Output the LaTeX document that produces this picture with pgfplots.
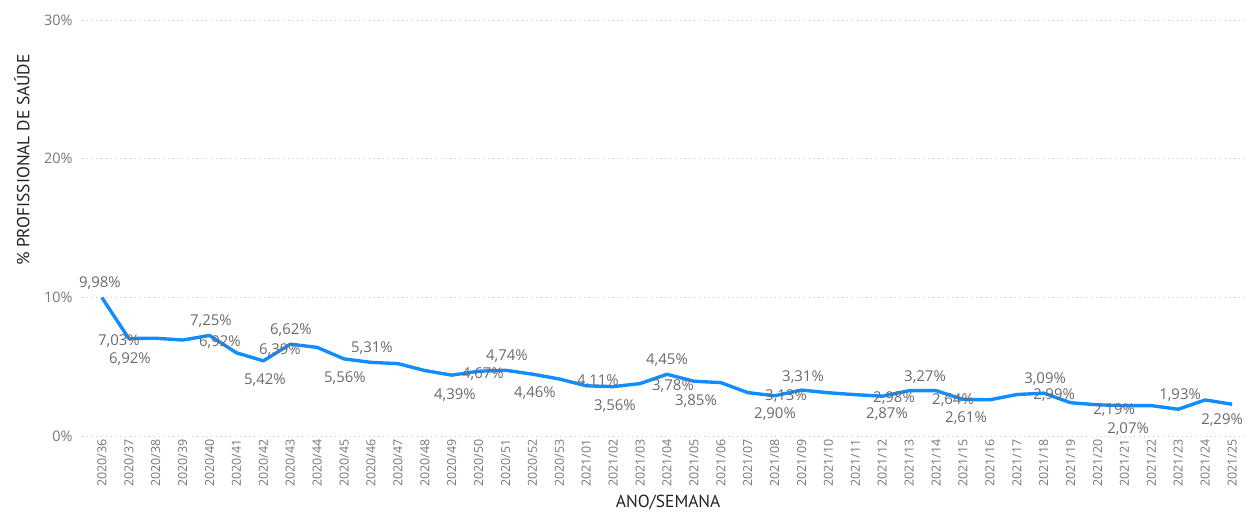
\documentclass[border=0pt]{standalone}
\usepackage{pgfplots}
\pgfplotsset{compat=1.18}
\usepackage{fontspec}
\setmainfont{Open Sans}
\newfontfamily\titlefont{PT Sans}
\definecolor{pbblue}{HTML}{118DFF}
\definecolor{lblgrey}{HTML}{6B6A68}
\definecolor{tickgrey}{HTML}{77767A}
\definecolor{titlegrey}{HTML}{252423}
\definecolor{gridgrey}{HTML}{C8C8C8}
% label placed at reference pixel position (px,py)
\newcommand{\lbl}[3]{\node[font=\fontsize{15}{17}\selectfont,text=lblgrey,inner sep=0pt] at (axis cs:{(#1-102)/26.905},{(436-#2)/13.867}) {#3};}
\begin{document}
\begin{tikzpicture}
\begin{axis}[
  at={(82bp,76bp)}, anchor=south west,
  scale only axis, width=1163bp, height=416bp,
  xmin=-0.74, xmax=42.48, ymin=0, ymax=30,
  axis line style={draw=none}, tick style={draw=none},
  ytick={0,10,20,30}, yticklabels={0\%,10\%,20\%,30\%},
  yticklabel style={font=\fontsize{14.5}{16}\selectfont,text=tickgrey,xshift=-6bp},
  ymajorgrids, grid style={gridgrey, line width=0.8pt, dash pattern=on 0.8pt off 4pt},
  xtick={0,...,42},
  xticklabels={2020/36,2020/37,2020/38,2020/39,2020/40,2020/41,2020/42,2020/43,2020/44,2020/45,2020/46,2020/47,2020/48,2020/49,2020/50,2020/51,2020/52,2020/53,2021/01,2021/02,2021/03,2021/04,2021/05,2021/06,2021/07,2021/08,2021/09,2021/10,2021/11,2021/12,2021/13,2021/14,2021/15,2021/16,2021/17,2021/18,2021/19,2021/20,2021/21,2021/22,2021/23,2021/24,2021/25},
  xticklabel style={font=\fontsize{12.5}{14}\selectfont,text=tickgrey,rotate=90,anchor=east,yshift=0bp},
  xlabel={ANO/SEMANA},
  xlabel style={font=\titlefont\fontsize{17.5}{19}\selectfont,text=titlegrey,inner sep=0pt,at={(axis description cs:0.504,-0.161)},anchor=center},
  ylabel={\% PROFISSIONAL DE SAÚDE},
  ylabel style={font=\titlefont\fontsize{17.5}{19}\selectfont,text=titlegrey,inner sep=0pt,at={(axis description cs:-0.0516,0.663)},anchor=center},
  clip=false,
]
\addplot[pbblue, line width=3.4pt, line join=round] coordinates {
(0,9.98) (1,7.03) (2,7.05) (3,6.92) (4,7.25) (5,6.00) (6,5.42) (7,6.62) (8,6.39) (9,5.56)
(10,5.31) (11,5.22) (12,4.72) (13,4.39) (14,4.67) (15,4.74) (16,4.46) (17,4.11) (18,3.62) (19,3.56)
(20,3.78) (21,4.45) (22,3.95) (23,3.85) (24,3.13) (25,2.90) (26,3.31) (27,3.12) (28,2.98) (29,2.87)
(30,3.27) (31,3.27) (32,2.64) (33,2.61) (34,2.99) (35,3.09) (36,2.40) (37,2.25) (38,2.19) (39,2.19)
(40,1.93) (41,2.60) (42,2.29)
};
\lbl{100}{283}{9,98\%}
\lbl{119}{341}{7,03\%}
\lbl{130}{359}{6,92\%}
\lbl{211}{321}{7,25\%}
\lbl{220}{342}{6,92\%}
\lbl{265}{380}{5,42\%}
\lbl{280}{350}{6,39\%}
\lbl{291}{330}{6,62\%}
\lbl{345}{378}{5,56\%}
\lbl{372}{348}{5,31\%}
\lbl{455}{395}{4,39\%}
\lbl{483}{374}{4,67\%}
\lbl{507}{356}{4,74\%}
\lbl{535}{393}{4,46\%}
\lbl{598}{381}{4,11\%}
\lbl{615}{406}{3,56\%}
\lbl{667}{360}{4,45\%}
\lbl{673}{386}{3,78\%}
\lbl{696}{401}{3,85\%}
\lbl{775}{414}{2,90\%}
\lbl{786}{396}{3,13\%}
\lbl{803}{377}{3,31\%}
\lbl{887}{414}{2,87\%}
\lbl{894}{398}{2,98\%}
\lbl{925}{377}{3,27\%}
\lbl{953}{400}{2,64\%}
\lbl{966}{418}{2,61\%}
\lbl{1045}{379}{3,09\%}
\lbl{1054}{395}{2,99\%}
\lbl{1114}{410}{2,19\%}
\lbl{1128}{429}{2,07\%}
\lbl{1180}{395}{1,93\%}
\lbl{1222}{420}{2,29\%}
\end{axis}
\pgfresetboundingbox
\path[use as bounding box] (0,0) rectangle (1249bp,512bp);
\end{tikzpicture}
\end{document}
